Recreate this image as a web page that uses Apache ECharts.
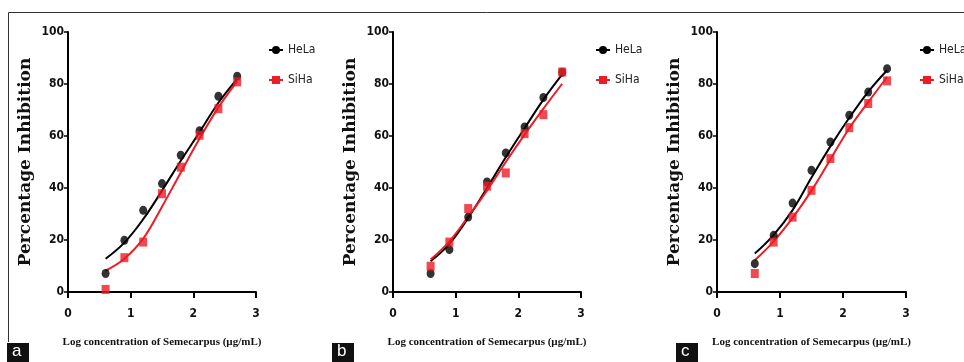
<!DOCTYPE html>
<html>
<head>
<meta charset="utf-8">
<title>Semecarpus inhibition</title>
<script src="https://cdn.jsdelivr.net/npm/echarts@6/dist/echarts.min.js"></script>
<style>
  html, body { margin: 0; padding: 0; background: #fff; }
  #chart { width: 964px; height: 362px; }
</style>
</head>
<body>
<div id="chart"></div>
<script>
// log concentration of the doses (x of every point and of the fitted curves)
var logConc = [0.6, 0.9, 1.2, 1.5, 1.8, 2.1, 2.4, 2.7];
var xTicks = [0, 1, 2, 3];
var yTicks = [0, 20, 40, 60, 80, 100];
var panelLetters = ["a", "b", "c"];
var seriesNames = ["HeLa", "SiHa"];

// measured points, % inhibition
var helaA = [7.1, 19.9, 31.4, 41.7, 52.6, 62.0, 75.3, 83.0];
var sihaA = [1.0, 13.2, 19.2, 37.8, 48.0, 60.3, 70.5, 80.8];
var helaB = [7.1, 16.3, 28.8, 42.3, 53.5, 63.5, 74.8, 84.5];
var sihaB = [9.9, 19.2, 32.1, 40.7, 45.8, 60.9, 68.2, 84.6];
var helaC = [10.9, 21.8, 34.2, 46.8, 57.7, 68.0, 76.9, 85.9];
var sihaC = [7.1, 19.2, 28.8, 39.1, 51.3, 63.2, 72.5, 81.2];

// fitted curves, at the same x values
var helaFitA = [12.8, 19.0, 28.0, 39.0, 50.5, 61.5, 72.8, 82.0];
var sihaFitA = [8.2, 12.8, 20.5, 32.8, 46.0, 59.0, 71.0, 81.0];
var helaFitB = [11.8, 18.5, 28.5, 40.0, 51.8, 63.0, 74.0, 83.7];
var sihaFitB = [12.5, 19.5, 29.0, 39.0, 50.0, 60.5, 70.5, 80.1];
var helaFitC = [14.8, 22.0, 31.5, 44.0, 56.0, 67.0, 77.0, 85.3];
var sihaFitC = [12.2, 19.5, 28.5, 39.0, 51.0, 63.0, 73.0, 82.7];

var pointSets = [[helaA, sihaA], [helaB, sihaB], [helaC, sihaC]];
var fitSets = [[helaFitA, sihaFitA], [helaFitB, sihaFitB], [helaFitC, sihaFitC]];

var colors = ["#000000", "#ee1c25"];
var symbols = ["circle", "rect"];

// where each panel sits
var grids = [
  { left: 68, top: 32, width: 188, height: 260 },
  { left: 393, top: 32, width: 188, height: 260 },
  { left: 717, top: 32, width: 189, height: 260 }
];
var legendLeft = [268, 595, 919];
var letterBox = [7, 332, 676];

function pairs(xs, ys) {
  return xs.map(function (x, i) { return [x, ys[i]]; });
}

var tickFont = "'DejaVu Sans Condensed', 'Liberation Sans Narrow', 'Liberation Sans', sans-serif";
var xAxes = [], yAxes = [], series = [], legends = [], graphics = [];

grids.forEach(function (g, p) {
  xAxes.push({
    gridIndex: p, type: "value", min: xTicks[0], max: xTicks[xTicks.length - 1], interval: 1,
    name: "Log concentration of Semecarpus (\u00b5g/mL)",
    nameLocation: "middle", nameGap: 45,
    nameTextStyle: { fontFamily: "'Liberation Serif', serif", fontWeight: "bold", fontSize: 11, color: "#111" },
    axisLine: { onZero: false, lineStyle: { color: "#000", width: 2 } },
    axisTick: { length: 6, lineStyle: { color: "#000", width: 2 } },
    axisLabel: { margin: 16, fontFamily: tickFont, fontWeight: "bold", fontSize: 12, color: "#111" },
    splitLine: { show: false }
  });
  yAxes.push({
    gridIndex: p, type: "value", min: yTicks[0], max: yTicks[yTicks.length - 1], interval: 20,
    name: "Percentage Inhibition",
    nameLocation: "middle", nameGap: 34,
    nameTextStyle: { fontFamily: "'DejaVu Serif', serif", fontWeight: "bold", fontSize: 17, color: "#111" },
    axisLine: { onZero: false, lineStyle: { color: "#000", width: 2 } },
    axisTick: { length: 4, lineStyle: { color: "#000", width: 1.5 } },
    axisLabel: { margin: 4, fontFamily: tickFont, fontWeight: "bold", fontSize: 12, color: "#111" },
    splitLine: { show: false }
  });

  // fitted curves first so the legend takes its icon (line + marker) from them
  seriesNames.forEach(function (nm, k) {
    series.push({
      name: nm, type: "line", xAxisIndex: p, yAxisIndex: p,
      data: pairs(logConc, fitSets[p][k]),
      smooth: 0.4, showSymbol: false, symbol: symbols[k], symbolSize: 8,
      lineStyle: { color: colors[k], width: 2 },
      itemStyle: { color: colors[k] },
      silent: true, z: 2
    });
  });
  seriesNames.forEach(function (nm, k) {
    series.push({
      name: nm, type: "scatter", xAxisIndex: p, yAxisIndex: p,
      data: pairs(logConc, pointSets[p][k]),
      symbol: symbols[k], symbolSize: [8, 9],
      itemStyle: { color: colors[k] },
      z: 3
    });
  });

  legends.push({
    left: legendLeft[p], top: 44, padding: 0, orient: "vertical", itemGap: 18,
    itemWidth: 14, itemHeight: 10,
    data: seriesNames,
    textStyle: { fontFamily: tickFont, fontSize: 12, color: "#222" }
  });

  graphics.push({
    type: "rect", left: letterBox[p], top: 343,
    shape: { width: 22, height: 19 }, style: { fill: "#111" }
  });
  graphics.push({
    type: "text", left: letterBox[p] + 5, top: 343,
    style: { text: panelLetters[p], fill: "#fff", font: "17px 'Liberation Sans', sans-serif" }
  });
});

// outer frame of the figure (left and top edges are visible)
graphics.push({
  type: "polyline",
  shape: { points: [[8.5, 342], [8.5, 12.5], [964, 12.5]] },
  style: { stroke: "#333", lineWidth: 1, fill: null }
});

var chart = echarts.init(document.getElementById("chart"));
chart.setOption({
  animation: false,
  backgroundColor: "#fff",
  grid: grids,
  xAxis: xAxes,
  yAxis: yAxes,
  legend: legends,
  series: series,
  graphic: graphics
});
</script>
</body>
</html>
